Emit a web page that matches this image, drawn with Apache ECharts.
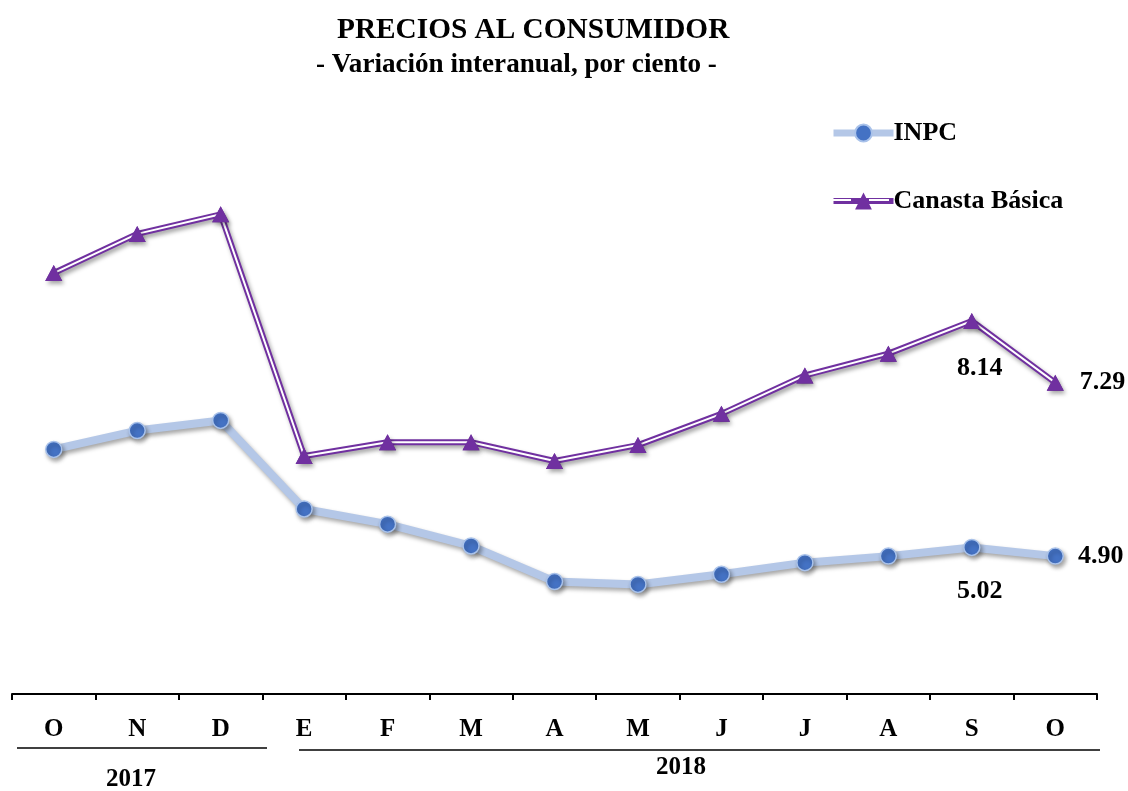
<!DOCTYPE html>
<html>
<head>
<meta charset="utf-8">
<script src="https://cdn.jsdelivr.net/npm/echarts@6/dist/echarts.min.js"></script>
<style>
html,body{margin:0;padding:0;background:#fff;}
#c{width:1128px;height:791px;}
</style>
</head>
<body>
<div id="c"></div>
<script>
var months = ['O','N','D','E','F','M','A','M','J','J','A','S','O'];
var inpc = [6.37, 6.63, 6.77, 5.55, 5.34, 5.04, 4.55, 4.51, 4.65, 4.81, 4.90, 5.02, 4.90];
var canasta = [8.80, 9.34, 9.61, 6.28, 6.47, 6.47, 6.21, 6.43, 6.86, 7.39, 7.69, 8.14, 7.29];
var labeledIdx = [11, 12];
var yearLabels = ['2017', '2018'];

var FONT = '"Liberation Serif", "Times New Roman", serif';
var SHADOW = { shadowColor: 'rgba(0,0,0,0.35)', shadowBlur: 4, shadowOffsetX: 2, shadowOffsetY: 3 };

function withLabels(arr, belowOff, rightOff) {
  return arr.map(function (v, i) {
    if (i === labeledIdx[0]) {
      return { value: v, label: { show: true, position: 'bottom', distance: belowOff, offset: [8, 0] } };
    }
    if (i === labeledIdx[1]) {
      return { value: v, label: { show: true, position: 'right', distance: rightOff } };
    }
    return v;
  });
}

var labelStyle = {
  show: false,
  fontFamily: FONT, fontWeight: 'bold', fontSize: 26, color: '#000',
  formatter: function (p) { return Number(p.value).toFixed(2); }
};

var chart = echarts.init(document.getElementById('c'), null, { renderer: 'canvas' });
chart.setOption({
  animation: false,
  backgroundColor: '#fff',
  title: [
    { text: 'PRECIOS AL CONSUMIDOR', left: 337, top: 16, padding: 0,
      textStyle: { fontFamily: FONT, fontWeight: 'bold', fontSize: 29.3, color: '#000' } },
    { text: '- Variación interanual, por ciento -', left: 316, top: 51, padding: 0,
      textStyle: { fontFamily: FONT, fontWeight: 'bold', fontSize: 27.1, color: '#000' } }
  ],
  legend: {
    orient: 'vertical', left: 830, top: 120, padding: 0,
    itemWidth: 60, itemHeight: 21, itemGap: 42,
    data: [
      { name: 'INPC', lineStyle: { width: 7, color: '#b4c7e7' } },
      { name: 'Canasta Básica', lineStyle: { width: 6, color: '#7030a0' } }
    ],
    textStyle: { fontFamily: FONT, fontWeight: 'bold', fontSize: 26, color: '#000', lineHeight: 21, padding: [0, 0, 0, -5] }
  },
  grid: { left: 12, right: 31, top: 186, bottom: 97, containLabel: false },
  xAxis: {
    type: 'category', data: months, boundaryGap: true,
    axisLine: { show: true, lineStyle: { color: '#000', width: 2 } },
    axisTick: { show: true, length: 6, lineStyle: { color: '#000', width: 2 } },
    axisLabel: { margin: 23, fontFamily: FONT, fontWeight: 'bold', fontSize: 25, color: '#000' },
    splitLine: { show: false }
  },
  yAxis: {
    type: 'value', min: 3, max: 10, interval: 1, show: false,
    splitLine: { show: false }
  },
  series: [
    {
      name: 'INPC', type: 'line', data: withLabels(inpc, 22, 14), z: 2,
      symbol: 'circle', symbolSize: 16,
      lineStyle: Object.assign({ color: '#b4c7e7', width: 8 }, SHADOW),
      itemStyle: Object.assign({ color: '#4472c4', borderColor: '#a9c2ea', borderWidth: 1.5 }, SHADOW),
      label: labelStyle,
      emphasis: { disabled: true }
    },
    {
      name: 'Canasta Básica', type: 'line', data: canasta, z: 3,
      symbol: 'triangle', symbolSize: [17, 16],
      lineStyle: Object.assign({ color: '#7030a0', width: 6 }, SHADOW),
      itemStyle: { color: '#7030a0', borderWidth: 0 },
      emphasis: { disabled: true }
    },
    {
      name: 'Canasta inner', type: 'line', data: canasta, z: 4,
      showSymbol: false, symbol: 'none',
      lineStyle: { color: '#ffffff', width: 2 },
      emphasis: { disabled: true }
    },
    {
      name: 'Canasta marks', type: 'line', data: withLabels(canasta, 26, 16), z: 5,
      symbol: 'triangle', symbolSize: [17, 16],
      lineStyle: { opacity: 0 },
      itemStyle: Object.assign({ color: '#7030a0', borderWidth: 0 }, SHADOW),
      label: labelStyle,
      emphasis: { disabled: true }
    }
  ],
  graphic: [
    { type: 'line', z: 100, shape: { x1: 831, y1: 200, x2: 851, y2: 200 }, style: { stroke: '#fff', lineWidth: 2 } },
    { type: 'line', z: 100, shape: { x1: 869, y1: 200, x2: 889, y2: 200 }, style: { stroke: '#fff', lineWidth: 2 } },
    { type: 'line', shape: { x1: 17, y1: 748, x2: 267, y2: 748 }, style: { stroke: '#000', lineWidth: 1.5 } },
    { type: 'line', shape: { x1: 299, y1: 750, x2: 1100, y2: 750 }, style: { stroke: '#000', lineWidth: 1.5 } },
    { type: 'text', x: 131, y: 780, style: { text: yearLabels[0], font: 'bold 25px ' + FONT, fill: '#000', textAlign: 'center', textVerticalAlign: 'middle' } },
    { type: 'text', x: 681, y: 768, style: { text: yearLabels[1], font: 'bold 25px ' + FONT, fill: '#000', textAlign: 'center', textVerticalAlign: 'middle' } }
  ]
});
</script>
</body>
</html>
